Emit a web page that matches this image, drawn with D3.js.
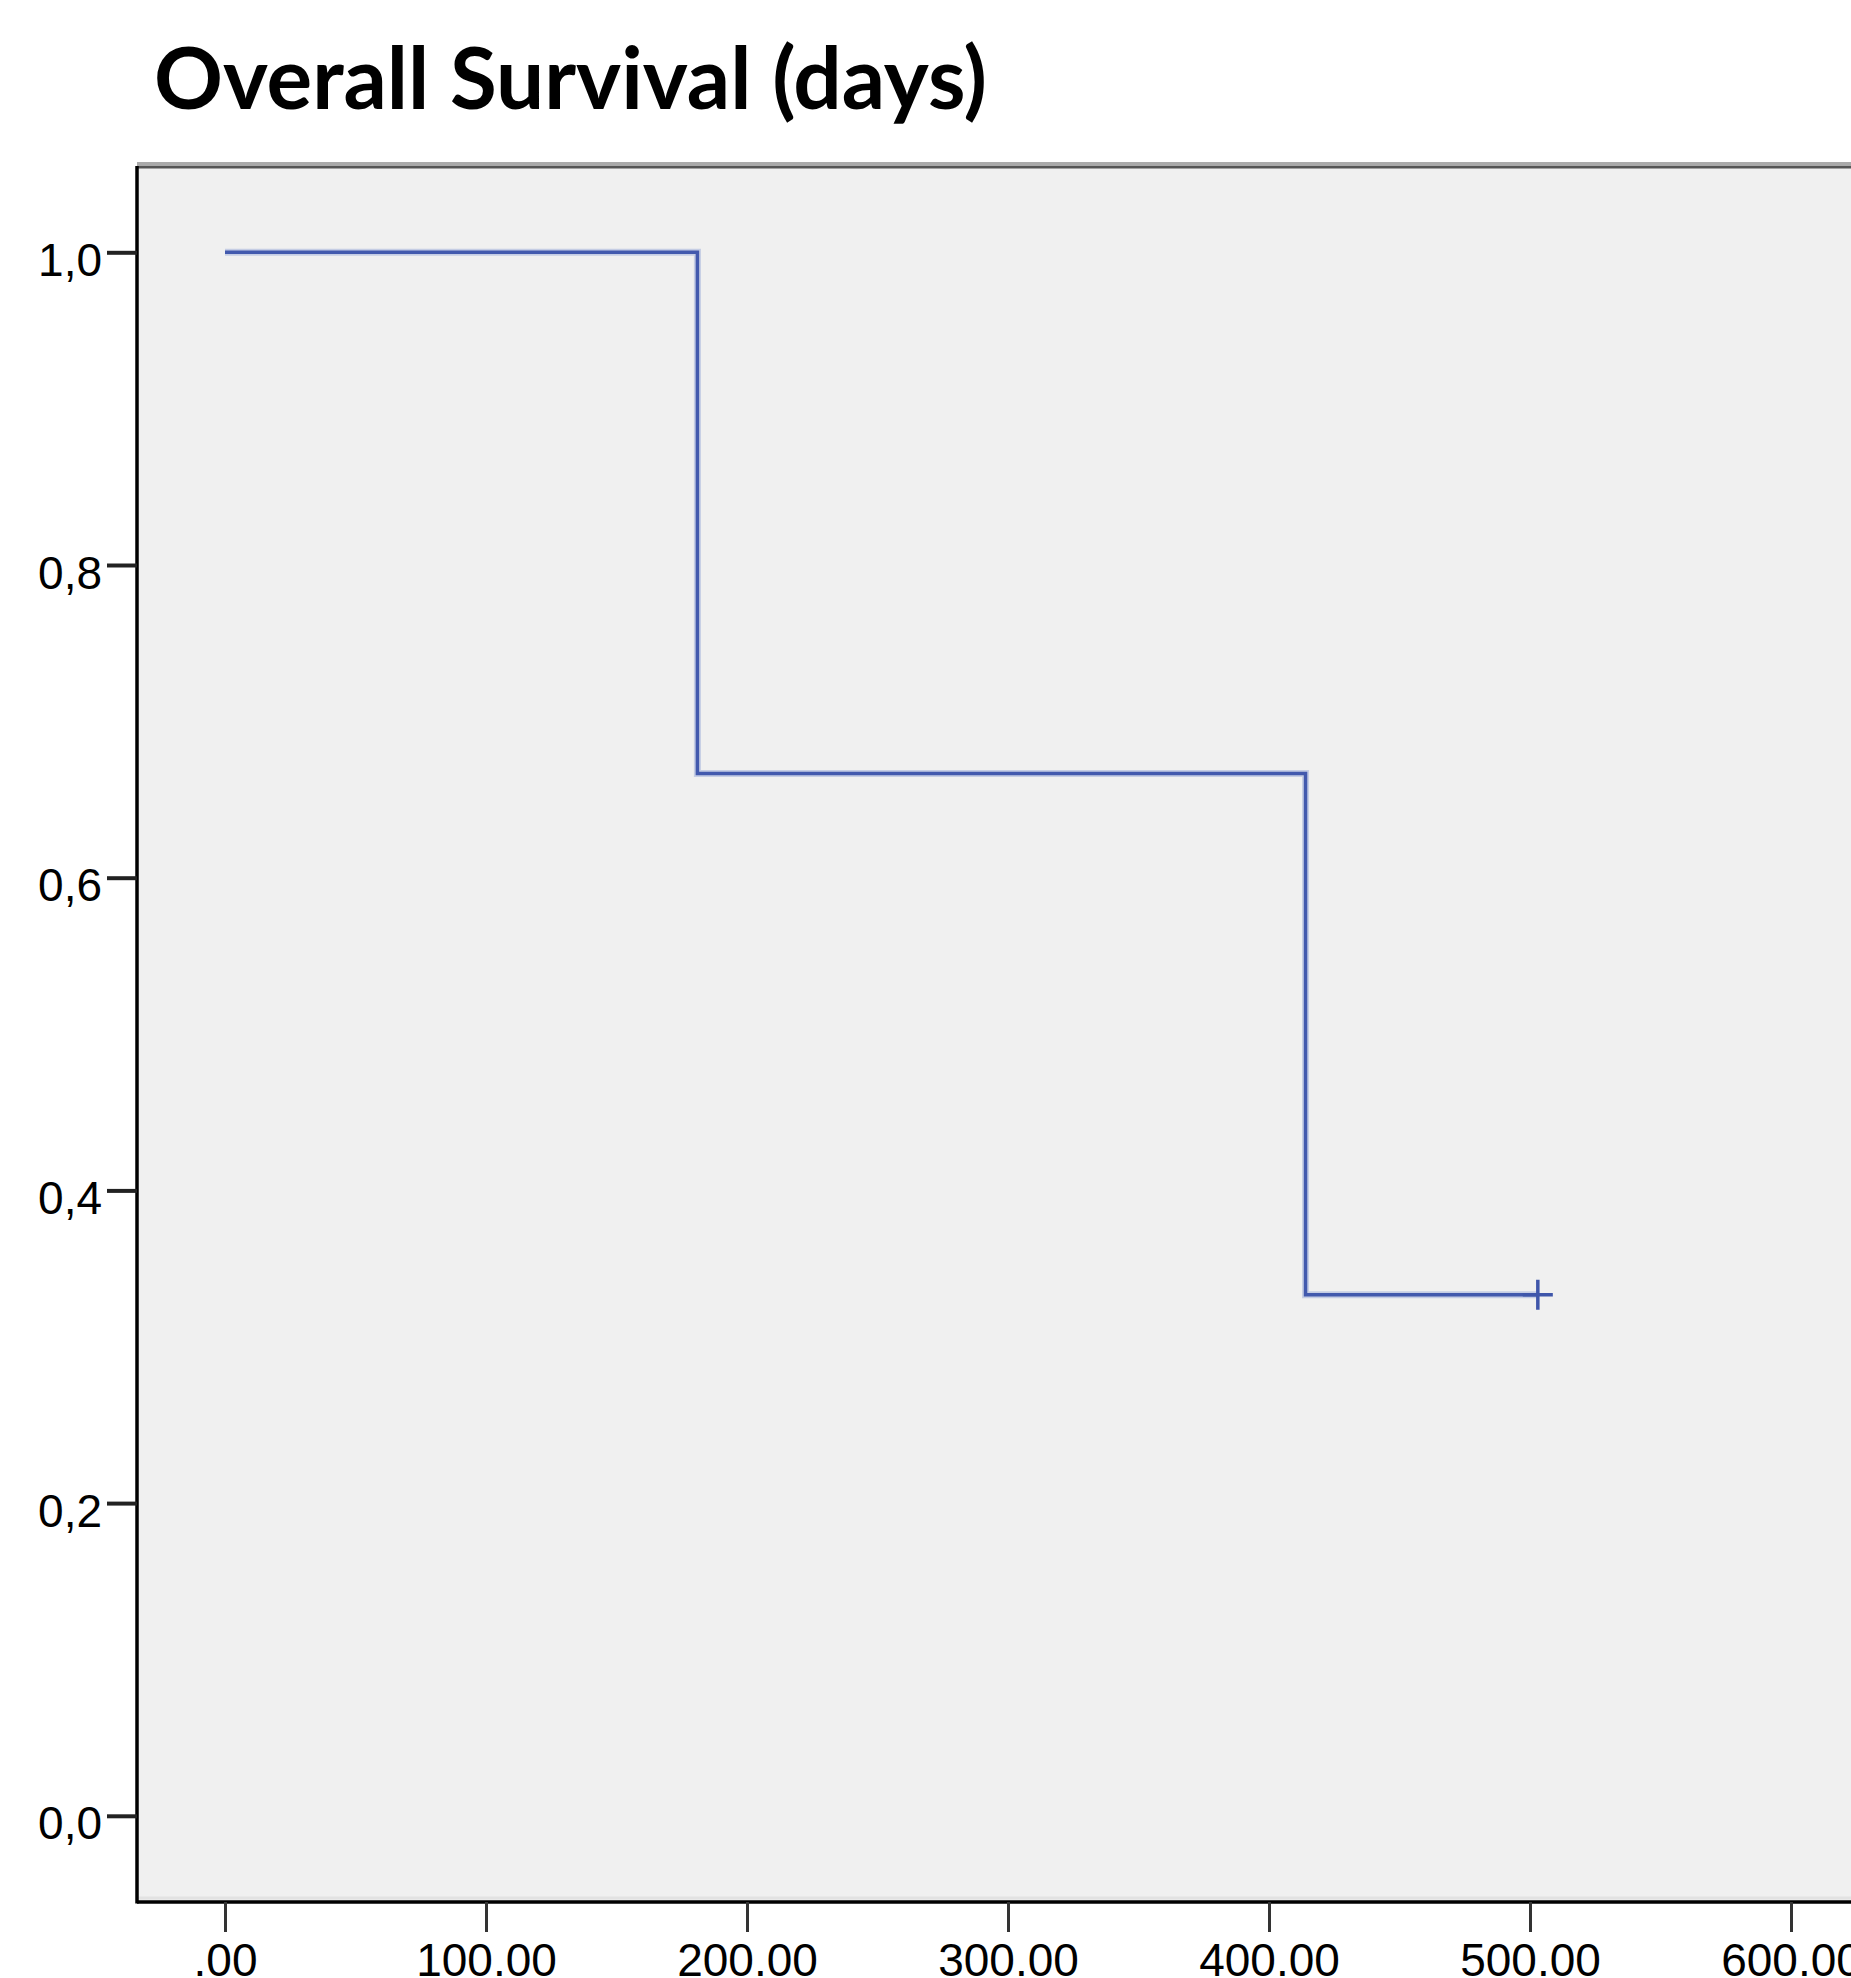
<!DOCTYPE html>
<html>
<head>
<meta charset="utf-8">
<script src="https://cdn.jsdelivr.net/npm/d3@7"></script>
<style>
  body { margin: 0; background: #fff; overflow: hidden; }
  .axis text { font-family: "Liberation Sans", Arial, sans-serif; font-size: 46px; fill: #000; }
</style>
</head>
<body>
<div id="chart"></div>
<script>
/* Kaplan-Meier step curve: overall survival in days */

// step data
const times = [0, 181, 414, 503];          // days where the curve changes / ends
const survival = [1.0, 0.6667, 0.3333, 0.3333];
const censorTimes = [503];                 // censored observation (+ mark)
const censorSurv = [0.3333];

const xTicks = [0, 100, 200, 300, 400, 500, 600];
const xTickLabels = [".00", "100.00", "200.00", "300.00", "400.00", "500.00", "600.00"];
const yTicks = [0, 0.2, 0.4, 0.6, 0.8, 1.0];
const yTickLabels = ["0,0", "0,2", "0,4", "0,6", "0,8", "1,0"];

const width = 1851,
    height = 1978,
    plot = ({ left: 137, top: 166, bottom: 1902 });

const svg = d3.select("#chart")
    .append("svg")
    .attr("width", width)
    .attr("height", height);

let x = d3.scaleLinear()
    .domain([0, 600])
    .range([225, 1791]);

let y = d3.scaleLinear()
    .domain([0, 1])
    .range([1815.8, 252.3]);

// title
svg.append("text")
    .attr("x", 154)
    .attr("y", 109)
    .attr("font-family", "Lato, 'Open Sans', sans-serif")
    .attr("font-weight", "bold")
    .attr("font-size", 86)
    .attr("textLength", 833)
    .attr("lengthAdjust", "spacingAndGlyphs")
    .text("Overall Survival (days)");

// plot background
svg.append("rect")
    .attr("x", plot.left)
    .attr("y", plot.top)
    .attr("width", width - plot.left + 10)
    .attr("height", plot.bottom - plot.top)
    .attr("fill", "#f0f0f0");

// frame: gray top edge, black left and bottom
svg.append("line")
    .attr("x1", plot.left).attr("x2", width)
    .attr("y1", 163.5).attr("y2", 163.5)
    .attr("stroke", "#aaa").attr("stroke-width", 3);
svg.append("line")
    .attr("x1", plot.left).attr("x2", width)
    .attr("y1", 167).attr("y2", 167)
    .attr("stroke", "#555").attr("stroke-width", 3);
svg.append("line")
    .attr("x1", plot.left).attr("x2", width)
    .attr("y1", plot.bottom - 4).attr("y2", plot.bottom - 4)
    .attr("stroke", "#e2e2e2").attr("stroke-width", 3);
svg.append("line")
    .attr("x1", plot.left).attr("x2", plot.left)
    .attr("y1", plot.top).attr("y2", plot.bottom + 1.5)
    .attr("stroke", "#000").attr("stroke-width", 3.5);
svg.append("line")
    .attr("x1", plot.left).attr("x2", width)
    .attr("y1", plot.bottom).attr("y2", plot.bottom)
    .attr("stroke", "#000").attr("stroke-width", 3.5);

// y axis
let yAxis = svg.append("g")
    .attr("class", "axis")
    .attr("transform", `translate(${plot.left},0)`)
    .call(d3.axisLeft(y)
        .tickValues(yTicks)
        .tickFormat((d, i) => yTickLabels[i])
        .tickSize(30)
        .tickPadding(5));
yAxis.select(".domain").remove();
yAxis.selectAll(".tick line").attr("stroke", "#222").attr("stroke-width", 4);
yAxis.selectAll(".tick text").attr("dy", "0.5em");

// x axis
let xAxis = svg.append("g")
    .attr("class", "axis")
    .attr("transform", `translate(0,${plot.bottom})`)
    .call(d3.axisBottom(x)
        .tickValues(xTicks)
        .tickFormat((d, i) => xTickLabels[i])
        .tickSize(30)
        .tickPadding(11));
xAxis.select(".domain").remove();
xAxis.selectAll(".tick line").attr("stroke", "#333").attr("stroke-width", 3);

// survival curve
let steps = times.map((t, i) => [t, survival[i]]);

let line = d3.line()
    .x(d => x(d[0]))
    .y(d => y(d[1]))
    .curve(d3.curveStepAfter);

svg.append("path")   // soft halo seen around the line
    .datum(steps)
    .attr("d", line)
    .attr("fill", "none")
    .attr("stroke", "#a9b5dc")
    .attr("stroke-width", 7)
    .attr("opacity", 0.6);

svg.append("path")
    .datum(steps)
    .attr("d", line)
    .attr("fill", "none")
    .attr("stroke", "#4259ad")
    .attr("stroke-width", 3.5);

// censor marks
svg.selectAll(".censor")
    .data(censorTimes)
    .join("path")
    .attr("class", "censor")
    .attr("d", (d, i) => {
        let cx = x(d), cy = y(censorSurv[i]);
        return `M${cx - 15},${cy}H${cx + 15}M${cx},${cy - 15}V${cy + 15}`;
    })
    .attr("fill", "none")
    .attr("stroke", "#3f56aa")
    .attr("stroke-width", 3.5);
</script>
</body>
</html>
